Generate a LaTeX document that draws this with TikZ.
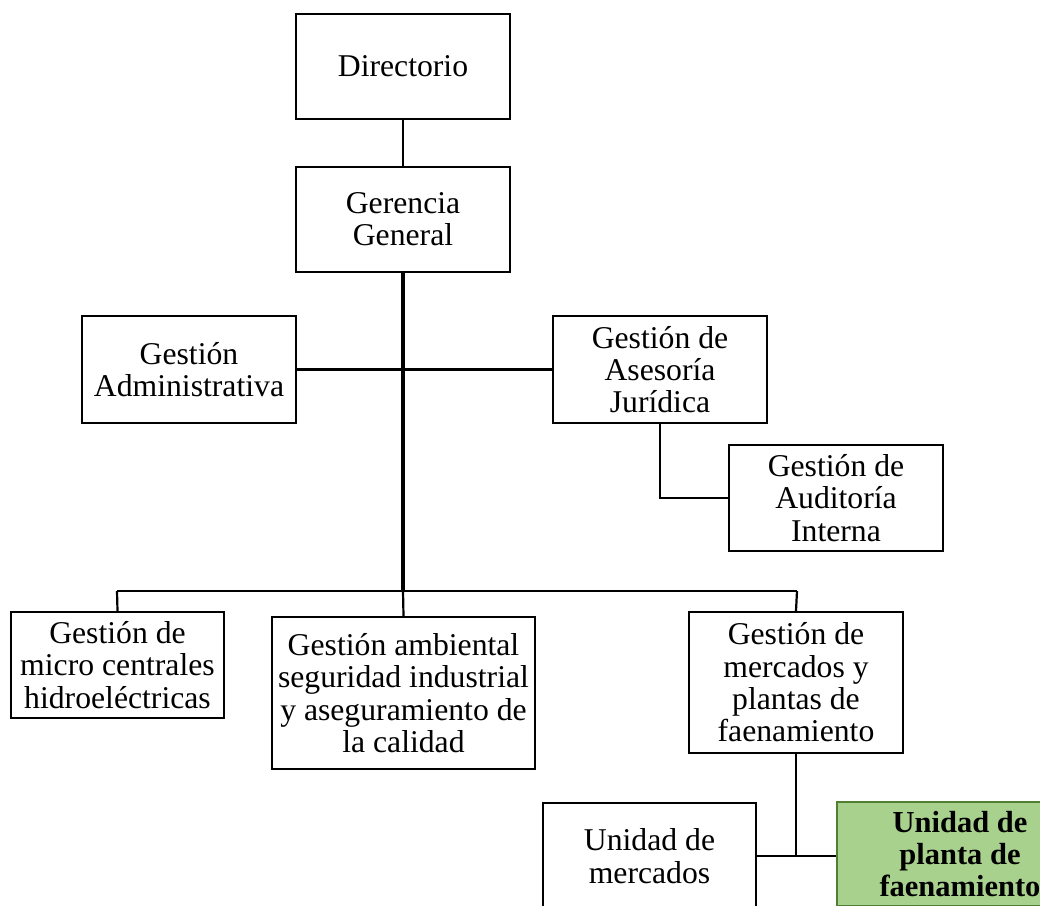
\documentclass[tikz,border=0pt]{standalone}
\usepackage{fontspec}
\setmainfont{Liberation Serif}
\definecolor{leafgreen}{HTML}{A9D18E}
\definecolor{leafedge}{HTML}{507E32}
\begin{document}
\begin{tikzpicture}[x=1pt,y=-1pt,
  orgbox/.style={draw=black, line width=2.2pt, rectangle, align=center, inner sep=0pt,
    fill=white, font=\fontsize{31.7}{32.3}\selectfont},
  hilite/.style={orgbox, draw=leafedge, fill=leafgreen,
    font=\fontsize{30.5}{32.3}\selectfont\bfseries},
  link/.style={draw=black, line width=2.2pt},
  trunk/.style={draw=black, line width=3.4pt}]
\useasboundingbox (0,0) rectangle (1040,905);
\fill[white] (0,0) rectangle (1040,905);
\clip (0,0) rectangle (1040,905);

% junction points of the lower-level bus
\coordinate (busL) at (117,591);
\coordinate (busC) at (403,591);
\coordinate (busR) at (797,591);

\node[orgbox, minimum width=214, minimum height=105] (dir) at (403,66.5) {Directorio};
\node[orgbox, minimum width=214, minimum height=105] (ger) at (403,219.5) {Gerencia\\General};
\node[orgbox, minimum width=214, minimum height=107] (adm) at (189,369.5) {Gestión\\Administrativa};
\node[orgbox, minimum width=214, minimum height=107] (ase) at (660,369.5) {Gestión de\\Asesoría\\Jurídica};
\node[orgbox, minimum width=214, minimum height=106] (aud) at (836,498) {Gestión de\\Auditoría\\Interna};
\node[orgbox, minimum width=213, minimum height=106] (mic) at (117.5,665) {Gestión de\\micro centrales\\hidroeléctricas};
\node[orgbox, minimum width=263, minimum height=152] (amb) at (403.5,693) {Gestión ambiental\\seguridad industrial\\y aseguramiento de\\la calidad};
\node[orgbox, minimum width=214, minimum height=141] (mer) at (796,682.5) {Gestión de\\mercados y\\plantas de\\faenamiento};
\node[orgbox, minimum width=213, minimum height=106] (um) at (649.5,856) {Unidad de\\mercados};
\node[hilite, minimum width=246, minimum height=104] (gr) at (960,854) {Unidad de\\planta de\\faenamiento};

\draw[link] (dir) -- (ger);
\draw[trunk] (ger.south) -- (busC);
\draw[link] (adm.east) -- (ase.west);
\draw[link] (ase.south) |- (aud.west);
\draw[link] (busL) -- (busR);
\draw[link] (busL) -- (mic.north);
\draw[link] (busC) -- (amb.north);
\draw[link] (busR) -- (mer.north);
\draw[link] (mer.south) -- (mer.south |- um.east);
\draw[link] (um.east) -- (um.east -| gr.west);
\end{tikzpicture}
\end{document}
